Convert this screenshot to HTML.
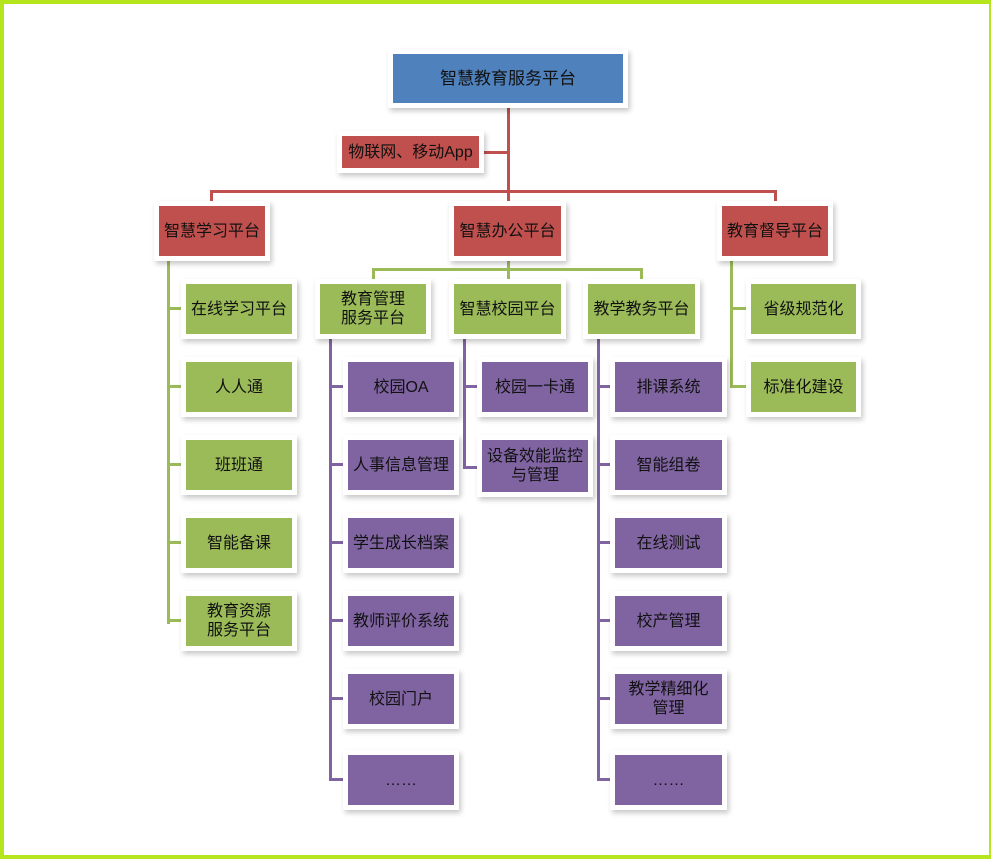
<!DOCTYPE html>
<html><head><meta charset="utf-8"><style>
*{margin:0;padding:0;box-sizing:border-box}
body{width:991px;height:859px;position:relative;background:#fff;overflow:hidden;font-family:"Liberation Sans","Noto Sans CJK SC",sans-serif}
.frame{position:absolute;left:0;top:0;width:991px;height:859px;border-style:solid;border-color:#b5e61d;border-width:4px 2px 4px 4px}
.l{position:absolute}
.r{background:#c0504d}.g{background:#9bbb59}.p{background:#8064a2}
.b{position:absolute;display:flex;align-items:center;justify-content:center;text-align:center;font-size:16px;line-height:19px;color:#111;box-shadow:0 0 0 5px #fff,2px 3px 5px 5px rgba(0,0,0,.22)}
.b.bl{background:#4f81bd}
.b.r{background:#c0504d}.b.g{background:#9bbb59}.b.p{background:#8064a2}
</style></head><body>
<div class="frame"></div>
<div class="l r" style="left:507px;top:103px;width:3px;height:104px"></div>
<div class="l r" style="left:479px;top:151px;width:30px;height:3px"></div>
<div class="l r" style="left:210px;top:190px;width:567px;height:3px"></div>
<div class="l r" style="left:210px;top:190px;width:3px;height:17px"></div>
<div class="l r" style="left:774px;top:190px;width:3px;height:17px"></div>
<div class="l g" style="left:507px;top:255px;width:3px;height:30px"></div>
<div class="l g" style="left:372px;top:268px;width:271px;height:3px"></div>
<div class="l g" style="left:372px;top:268px;width:3px;height:17px"></div>
<div class="l g" style="left:640px;top:268px;width:3px;height:17px"></div>
<div class="l g" style="left:167px;top:255px;width:3px;height:369px"></div>
<div class="l g" style="left:167px;top:307px;width:20px;height:3px"></div>
<div class="l g" style="left:167px;top:385px;width:20px;height:3px"></div>
<div class="l g" style="left:167px;top:463px;width:20px;height:3px"></div>
<div class="l g" style="left:167px;top:541px;width:20px;height:3px"></div>
<div class="l g" style="left:167px;top:619px;width:20px;height:3px"></div>
<div class="l g" style="left:730px;top:255px;width:3px;height:133px"></div>
<div class="l g" style="left:730px;top:307px;width:22px;height:3px"></div>
<div class="l g" style="left:730px;top:385px;width:22px;height:3px"></div>
<div class="l p" style="left:329px;top:334px;width:3px;height:447px"></div>
<div class="l p" style="left:463px;top:334px;width:3px;height:135px"></div>
<div class="l p" style="left:597px;top:334px;width:3px;height:447px"></div>
<div class="l p" style="left:329px;top:385px;width:20px;height:3px"></div>
<div class="l p" style="left:329px;top:463px;width:20px;height:3px"></div>
<div class="l p" style="left:329px;top:541px;width:20px;height:3px"></div>
<div class="l p" style="left:329px;top:619px;width:20px;height:3px"></div>
<div class="l p" style="left:329px;top:697px;width:20px;height:3px"></div>
<div class="l p" style="left:329px;top:778px;width:20px;height:3px"></div>
<div class="l p" style="left:463px;top:385px;width:20px;height:3px"></div>
<div class="l p" style="left:463px;top:466px;width:20px;height:3px"></div>
<div class="l p" style="left:597px;top:385px;width:20px;height:3px"></div>
<div class="l p" style="left:597px;top:463px;width:20px;height:3px"></div>
<div class="l p" style="left:597px;top:541px;width:20px;height:3px"></div>
<div class="l p" style="left:597px;top:619px;width:20px;height:3px"></div>
<div class="l p" style="left:597px;top:697px;width:20px;height:3px"></div>
<div class="l p" style="left:597px;top:778px;width:20px;height:3px"></div>

<div class="b bl" style="left:393px;top:54px;width:230px;height:49px;font-size:17px">智慧教育服务平台</div>
<div class="b r" style="left:342px;top:136px;width:137px;height:32px">物联网、移动App</div>
<div class="b r" style="left:159px;top:206px;width:106px;height:50px">智慧学习平台</div>
<div class="b r" style="left:454px;top:206px;width:107px;height:50px">智慧办公平台</div>
<div class="b r" style="left:722px;top:206px;width:106px;height:50px">教育督导平台</div>

<div class="b g" style="left:186px;top:284px;width:106px;height:50px">在线学习平台</div>
<div class="b g" style="left:186px;top:362px;width:106px;height:50px">人人通</div>
<div class="b g" style="left:186px;top:440px;width:106px;height:50px">班班通</div>
<div class="b g" style="left:186px;top:518px;width:106px;height:50px">智能备课</div>
<div class="b g" style="left:186px;top:596px;width:106px;height:50px">教育资源<br>服务平台</div>

<div class="b g" style="left:320px;top:284px;width:106px;height:50px">教育管理<br>服务平台</div>
<div class="b g" style="left:454px;top:284px;width:107px;height:50px">智慧校园平台</div>
<div class="b g" style="left:588px;top:284px;width:107px;height:50px">教学教务平台</div>
<div class="b g" style="left:751px;top:284px;width:105px;height:50px">省级规范化</div>
<div class="b g" style="left:751px;top:362px;width:105px;height:50px">标准化建设</div>

<div class="b p" style="left:348px;top:362px;width:106px;height:50px">校园OA</div>
<div class="b p" style="left:348px;top:440px;width:106px;height:50px">人事信息管理</div>
<div class="b p" style="left:348px;top:518px;width:106px;height:50px">学生成长档案</div>
<div class="b p" style="left:348px;top:596px;width:106px;height:50px">教师评价系统</div>
<div class="b p" style="left:348px;top:674px;width:106px;height:50px">校园门户</div>
<div class="b p" style="left:348px;top:755px;width:106px;height:50px">……</div>

<div class="b p" style="left:482px;top:362px;width:106px;height:50px">校园一卡通</div>
<div class="b p" style="left:482px;top:440px;width:106px;height:52px">设备效能监控<br>与管理</div>

<div class="b p" style="left:615px;top:362px;width:107px;height:50px">排课系统</div>
<div class="b p" style="left:615px;top:440px;width:107px;height:50px">智能组卷</div>
<div class="b p" style="left:615px;top:518px;width:107px;height:50px">在线测试</div>
<div class="b p" style="left:615px;top:596px;width:107px;height:50px">校产管理</div>
<div class="b p" style="left:615px;top:674px;width:107px;height:50px">教学精细化<br>管理</div>
<div class="b p" style="left:615px;top:755px;width:107px;height:50px">……</div>
</body></html>
